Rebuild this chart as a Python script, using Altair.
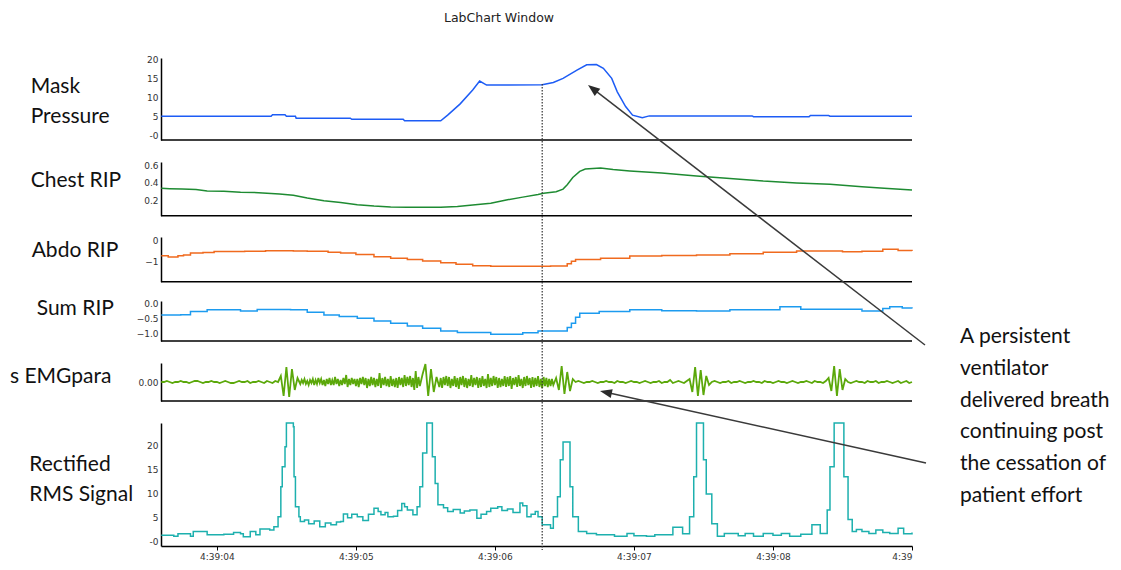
import math
import altair as alt
import pandas as pd

# ---------------- data (time in seconds after 4:39:00) ----------------
TIME_TICKS = [4, 5, 6, 7, 8, 9]
MARKER_T = [6.34]

MASK_T = [3.60, 4.39, 4.40, 4.49, 4.50, 4.565, 4.57, 4.96, 4.97, 5.34, 5.35, 5.61, 5.66, 5.75, 5.84,
          5.89, 5.94, 6.34, 6.42, 6.49, 6.59, 6.66, 6.73, 6.78, 6.84, 6.88, 6.94, 6.99, 7.06, 7.11,
          7.85, 7.86, 8.26, 8.27, 8.40, 8.41, 9.00]
MASK_V = [5.0, 5.0, 5.4, 5.4, 5.0, 5.0, 4.5, 4.5, 4.2, 4.2, 3.8, 3.8, 5.3, 8.3, 12.0,
          14.4, 13.3, 13.4, 14.0, 15.1, 17.3, 18.7, 18.8, 17.8, 15.1, 11.5, 7.6, 5.3, 4.6, 5.1,
          5.1, 4.9, 4.9, 5.2, 5.2, 5.0, 5.0]

CHEST_T = [3.60, 3.66, 3.75, 3.85, 3.93, 4.05, 4.17, 4.30, 4.45, 4.55, 4.65, 4.77, 4.89, 5.01, 5.13,
           5.25, 5.37, 5.50, 5.61, 5.73, 5.84, 5.97, 6.09, 6.20, 6.31, 6.35, 6.44, 6.49, 6.52, 6.56,
           6.61, 6.65, 6.76, 6.85, 6.97, 7.20, 7.45, 7.69, 7.93, 8.17, 8.41, 8.64, 8.80, 9.00]
CHEST_V = [0.34, 0.335, 0.33, 0.325, 0.31, 0.305, 0.295, 0.29, 0.275, 0.26, 0.23, 0.20, 0.18, 0.155, 0.14,
           0.13, 0.125, 0.125, 0.125, 0.135, 0.15, 0.17, 0.21, 0.24, 0.27, 0.283, 0.30, 0.33, 0.38, 0.46,
           0.53, 0.556, 0.567, 0.55, 0.534, 0.51, 0.478, 0.45, 0.42, 0.40, 0.384, 0.357, 0.34, 0.32]

ABDO_T = [3.60, 3.65, 3.72, 3.76, 3.81, 3.90, 3.98, 4.20, 4.35, 4.55, 4.65, 4.80, 4.89, 5.00, 5.13,
          5.25, 5.37, 5.48, 5.61, 5.72, 5.84, 5.97, 6.09, 6.31, 6.40, 6.49, 6.52, 6.55, 6.58, 6.76,
          6.97, 7.20, 7.45, 7.69, 7.93, 8.17, 8.50, 8.64, 8.79, 8.90, 9.00]
ABDO_V = [-0.71, -0.78, -0.72, -0.68, -0.59, -0.56, -0.51, -0.50, -0.48, -0.49, -0.50, -0.55, -0.59, -0.66, -0.76,
          -0.83, -0.89, -0.97, -1.05, -1.12, -1.19, -1.21, -1.22, -1.22, -1.20, -1.20, -1.10, -0.98, -0.90, -0.84,
          -0.73, -0.70, -0.68, -0.62, -0.55, -0.49, -0.52, -0.50, -0.41, -0.47, -0.49]

SUM_T = [3.60, 3.74, 3.81, 3.93, 4.17, 4.29, 4.53, 4.65, 4.77, 4.88, 5.01, 5.13, 5.25, 5.37, 5.48,
         5.61, 5.73, 5.97, 6.20, 6.31, 6.49, 6.52, 6.55, 6.58, 6.61, 6.75, 6.97, 7.20, 7.45, 7.69,
         8.05, 8.20, 8.64, 8.79, 8.84, 8.93, 9.00]
SUM_V = [-0.375, -0.37, -0.26, -0.20, -0.24, -0.19, -0.20, -0.28, -0.375, -0.43, -0.49, -0.58, -0.66, -0.75, -0.83,
         -0.92, -0.97, -1.03, -0.98, -0.92, -0.92, -0.80, -0.66, -0.45, -0.32, -0.26, -0.20, -0.23, -0.24, -0.20,
         -0.09, -0.18, -0.24, -0.15, -0.09, -0.14, -0.15]

# EMG segments: (start time, sample interval, samples)
EMG_QUIET_A = [0, 0, 1, 0, -1, 0, 0, 1, 0, 0, -1, 0, 1, 1, 0, -1, 0, 0, 1, 0,
               0, -1, 0, 1, 0, -1, -1, 0, 1, 0, 0, 1, -1, 0, 0, 1, 0, -1, 1, 0, -1, 1, 0]
EMG_BURST_1 = [6, -14, 15, -15, 13, -8, 4]
EMG_NOISE_C = [-2, 2, -1, 3, -2, 1, -3, 2, -1, 3, -3, 2, -2, 4, -1, 3, -3, 2, -4, 3,
               -2, 4, -3, 2, -3, 5, -2, 3, -4, 2, -3, 4, -2, 7, -5, 3, -3, 4, -2, 3,
               -4, 3, -5, 4, -2, 5, -3, 4, -6, 3, -4, 5, -3, 4, -5, 3, -4, 9, -6, 4,
               -3, 5, -4, 3, -5, 6, -4, 3, -5, 4, -6, 5, -3, 4, -5, 7, -4, 5, -3, 6,
               -5, 4, -8, 11, -6, 5, -4]
EMG_BURST_2 = [8, 18, -14, 13, -10, 5]
EMG_NOISE_E = [-5, 4, -6, 5, -3, 6, -4, 5, -6, 3, -4, 6, -5, 4, -7, 5, -3, 6, -5, 4,
               -6, 3, -4, 7, -5, 4, -3, 5, -6, 4, -5, 6, -4, 3, -6, 8, -5, 4, -4, 6,
               -3, 5, -6, 4, -5, 3, -4, 6, -5, 5, -4, 6, -7, 4, -3, 5, -5, 7, -4, 3,
               -6, 5, -4, 6, -3, 4, -6, 5, -5, 4, -4, 6, -5, 3, -6, 5, -4, 4, -5, 3,
               -4, 3, -3]
EMG_BURST_3 = [4, -8, 16, -12, 10, -9, 3]
EMG_QUIET_H = [0, 1, 0, -1, 0, 0, 1, 0, -1, 0, 0, 1, 0, 0, -1, 1, 0, 0, -1, 0,
               1, 0, 0, -1, 0, 1, 0, -1, 0, 0, 1, -1, 0, 0, 2, -1, 0, 1, 0, -1, 1]
EMG_BURST_4 = [3, -10, 15, -14, 12, -13, 6, -3]
EMG_QUIET_J = [0, 1, 0, -1, 0, 0, 1, -1, 0, 0, 1, 0, -1, 0, 0, 1, 0, 0, -1, 1,
               0, 0, -1, 0, 1, 0, 0, -1, 0, 1, 0, -1, 0, 0, 1, 0, -1, 1, 0, 0, -1, 1]
EMG_BURST_5 = [4, -9, 16, -14, 13, -8, 3]
EMG_QUIET_L = [0, -1, 0, 1, 0, 0, -1, 1, 0, 0, 1, -1, 0, 0, 1, 0, -1, 0, 1, -1, 0, 1, -1, 0]
EMG_SEGMENTS = [(3.60, 0.02, EMG_QUIET_A), (4.46, 0.02, EMG_BURST_1), (4.60, 0.01, EMG_NOISE_C),
                (5.48, 0.02, EMG_BURST_2), (5.60, 0.01, EMG_NOISE_E), (6.44, 0.02, EMG_BURST_3),
                (6.58, 0.02, EMG_QUIET_H), (7.40, 0.02, EMG_BURST_4), (7.56, 0.02, EMG_QUIET_J),
                (8.40, 0.02, EMG_BURST_5), (8.54, 0.02, EMG_QUIET_L)]

RMS_T = [3.60, 3.69, 3.72, 3.81, 3.83, 3.93, 4.05, 4.12, 4.17, 4.19,
         4.24, 4.28, 4.31, 4.38, 4.41, 4.44, 4.46, 4.47, 4.49, 4.50,
         4.54, 4.55, 4.555, 4.565, 4.59, 4.60, 4.63, 4.66, 4.70, 4.74,
         4.78, 4.82, 4.86, 4.89, 4.91, 4.94, 4.97, 5.01, 5.05, 5.09,
         5.13, 5.16, 5.18, 5.21, 5.23, 5.27, 5.30, 5.33, 5.35, 5.37,
         5.41, 5.44, 5.46, 5.48, 5.51, 5.53, 5.55, 5.57, 5.59, 5.63,
         5.66, 5.70, 5.75, 5.78, 5.82, 5.87, 5.90, 5.94, 5.97, 6.02,
         6.05, 6.09, 6.13, 6.18, 6.20, 6.23, 6.26, 6.29, 6.31, 6.34,
         6.40, 6.42, 6.45, 6.47, 6.49, 6.52, 6.54, 6.56, 6.60, 6.66,
         6.73, 6.80, 6.86, 6.95, 7.00, 7.09, 7.15, 7.21, 7.28, 7.35,
         7.40, 7.43, 7.45, 7.49, 7.50, 7.52, 7.56, 7.60, 7.65, 7.69,
         7.75, 7.80, 7.86, 7.93, 8.00, 8.06, 8.12, 8.20, 8.28, 8.34,
         8.39, 8.41, 8.44, 8.49, 8.51, 8.54, 8.57, 8.60, 8.64, 8.69,
         8.74, 8.79, 8.84, 8.90, 8.94, 9.00]
RMS_V = [1.2, 1.0, 1.5, 1.0, 2.0, 1.3, 1.4, 1.8, 1.5, 0.9,
         2.0, 1.3, 2.5, 2.3, 3.0, 5.1, 11.4, 15.6, 19.8, 30,
         30, 24, 13.5, 7.2, 5.1, 4.1, 4.4, 3.6, 4.2, 3.0,
         3.8, 3.4, 4.0, 4.1, 5.7, 4.9, 5.6, 5.1, 4.3, 5.6,
         6.9, 6.2, 5.5, 6.0, 5.1, 5.2, 6.4, 7.9, 7.2, 6.5,
         5.5, 7.2, 11.4, 18.5, 26, 26, 17.7, 12.1, 7.6, 7.0,
         6.2, 6.6, 5.9, 6.3, 6.5, 4.8, 5.6, 6.2, 6.9, 7.2,
         6.4, 6.7, 6.0, 8.0, 7.4, 5.1, 5.6, 6.2, 5.1, 3.4,
         2.7, 5.1, 9.3, 17.1, 20.8, 20.8, 11.4, 5.1, 2.0, 1.6,
         1.3, 1.3, 1.0, 1.6, 1.1, 1.0, 1.3, 1.3, 2.9, 1.5,
         5.1, 13.5, 30, 30, 17.1, 9.9, 3.6, 1.0, 1.6, 1.6,
         1.1, 1.6, 1.0, 1.6, 1.2, 1.6, 1.0, 1.4, 3.4, 1.6,
         6.5, 15.6, 30, 30, 13.5, 4.5, 2.0, 2.4, 2.0, 1.6,
         2.3, 1.8, 1.6, 2.7, 1.5, 1.8]

PANEL_LABELS = ["Mask\nPressure", "Chest RIP", "Abdo RIP", "Sum RIP", "s EMGpara", "Rectified\nRMS Signal"]
TITLE = "LabChart Window"
NOTE = "A persistent\nventilator\ndelivered breath\ncontinuing post\nthe cessation of\npatient effort"

# ---------------- layout ----------------
W, H = 751, 538
FONT_LBL = "Lato"
FONT_AX = "DejaVu Sans"

emg_t, emg_v = [], []
for t0, dt, vals in EMG_SEGMENTS:
    for i, v in enumerate(vals):
        emg_t.append(round(t0 + dt * i, 4))
        emg_v.append(v)

xscale = alt.Scale(domain=[3.598, 9.0], nice=False, zero=False)
xaxis = alt.Axis(values=TIME_TICKS, title=None, grid=False, tickSize=4, tickColor="#000",
                 domainColor="#000", domainWidth=1.5, labelFontSize=9, labelFont=FONT_AX,
                 labelColor="#333", labelPadding=2, labelFlush=True,
                 labelExpr="datum.value >= 9 ? '4:39' : '4:39:0' + datum.value")


def series(t, v, color, dom, rng, ticks, interp="linear", fmt=None, expr=None, clamp=False, sw=1.5):
    df = pd.DataFrame({"t": t, "v": v})
    axkw = dict(orient="left", title=None, ticks=False, grid=False, domainColor="#000",
                domainWidth=1.5, labelFontSize=9, labelFont=FONT_AX, labelColor="#333",
                labelPadding=3, values=ticks, labelOverlap=False)
    if fmt:
        axkw["format"] = fmt
    if expr:
        axkw["labelExpr"] = expr
    return alt.Chart(df).mark_line(color=color, strokeWidth=sw, interpolate=interp).encode(
        x=alt.X("t:Q", scale=xscale, axis=xaxis),
        y=alt.Y("v:Q", scale=alt.Scale(domain=dom, range=rng, nice=False, zero=False, clamp=clamp),
                axis=alt.Axis(**axkw)),
    )


one = pd.DataFrame({"a": [0]})

# panel pixel ranges (bottom, top) inside plot area
P_MASK = [132, 50]
P_CHEST = [207.7, 154]
P_ABDO = [273.7, 229]
P_SUM = [333, 293]
P_EMG = [393, 355]
P_RMS = [538, 415]

layers = []
for bottom in [P_MASK[0], P_CHEST[0], P_ABDO[0], P_SUM[0], P_EMG[0]]:
    layers.append(alt.Chart(one).mark_rule(color="#000", strokeWidth=1.5).encode(
        x=alt.value(0), x2=alt.value(W), y=alt.value(bottom)))

zero_expr = "datum.value == 0 ? '-0' : datum.label"
layers += [
    series(MASK_T, MASK_V, "#1d5cf5", [-1.33, 20.53], P_MASK, [0, 5, 10, 15, 20], expr=zero_expr),
    series(CHEST_T, CHEST_V, "#1e8b32", [0.031, 0.635], P_CHEST, [0.2, 0.4, 0.6], fmt=".1f"),
    series(ABDO_T, ABDO_V, "#f06a1e", [-1.95, 0.176], P_ABDO, [0, -1], interp="step-after", fmt="d"),
    series(SUM_T, SUM_V, "#1c9bef", [-1.263, 0.102], P_SUM, [0, -0.5, -1], interp="step-after", fmt=".1f"),
    series(emg_t, emg_v, "#5ba80a", [-19, 19], P_EMG, [0], expr="'0.00'", sw=1.8),
    series(RMS_T, RMS_V, "#1db0ae", [-1.05, 24.8], P_RMS, [0, 5, 10, 15, 20], interp="step-after",
           expr=zero_expr, clamp=True),
]

# event marker (dotted vertical line)
layers.append(alt.Chart(pd.DataFrame({"t": MARKER_T})).mark_rule(
    color="#333", strokeWidth=1.2, strokeDash=[1.5, 1.5]).encode(
    x=alt.X("t:Q", scale=xscale, axis=xaxis), y=alt.value(76), y2=alt.value(542)))

# arrows (pixel layout)
ARROWS = [((764, 337), (427, 77)), ((765, 455), (439, 383))]
HEAD = "M0,-1L0.75,1L-0.75,1Z"
for (tx, ty), (hx, hy) in ARROWS:
    dx, dy = hx - tx, hy - ty
    ln = math.hypot(dx, dy)
    ux, uy = dx / ln, dy / ln
    cx, cy = hx - 6 * ux, hy - 6 * uy
    ang = math.degrees(math.atan2(dx, -dy)) % 360
    layers.append(alt.Chart(one).mark_rule(color="#3a3a3a", strokeWidth=1.5).encode(
        x=alt.value(tx), y=alt.value(ty), x2=alt.value(cx), y2=alt.value(cy)))
    layers.append(alt.Chart(one).mark_point(shape=HEAD, filled=True, size=144, angle=ang,
                                            color="#2b2b2b", opacity=1).encode(
        x=alt.value(cx), y=alt.value(cy)))

# texts
LABEL_POS = [(-130.3, 85.3), (-130.3, 178.7), (-129.3, 248.7), (-124.3, 307), (-151, 375.3), (-131.7, 462.7)]
for txt, (px, py) in zip(PANEL_LABELS, LABEL_POS):
    layers.append(alt.Chart(one).mark_text(align="left", baseline="alphabetic", font=FONT_LBL,
                                           fontSize=21, color="#111", lineBreak="\n",
                                           lineHeight=30).encode(
        x=alt.value(px), y=alt.value(py), text=alt.value(txt)))

layers.append(alt.Chart(one).mark_text(align="left", baseline="alphabetic", font=FONT_LBL,
                                       fontSize=21, color="#111", lineBreak="\n",
                                       lineHeight=31.7).encode(
    x=alt.value(799), y=alt.value(335.3), text=alt.value(NOTE)))

layers.append(alt.Chart(one).mark_text(align="center", baseline="middle", font=FONT_AX,
                                       fontSize=12.5, color="#222").encode(
    x=alt.value(338), y=alt.value(10), text=alt.value(TITLE)))

chart = alt.layer(*layers).resolve_scale(y="independent").resolve_axis(y="independent").properties(
    width=W, height=H,
    autosize=alt.AutoSizeParams(type="none"),
    padding={"left": 153, "top": 0, "right": 201, "bottom": 16},
    background="white",
).configure_view(stroke=None)

chart.save("out.html", embed_options={"renderer": "svg", "actions": False})
